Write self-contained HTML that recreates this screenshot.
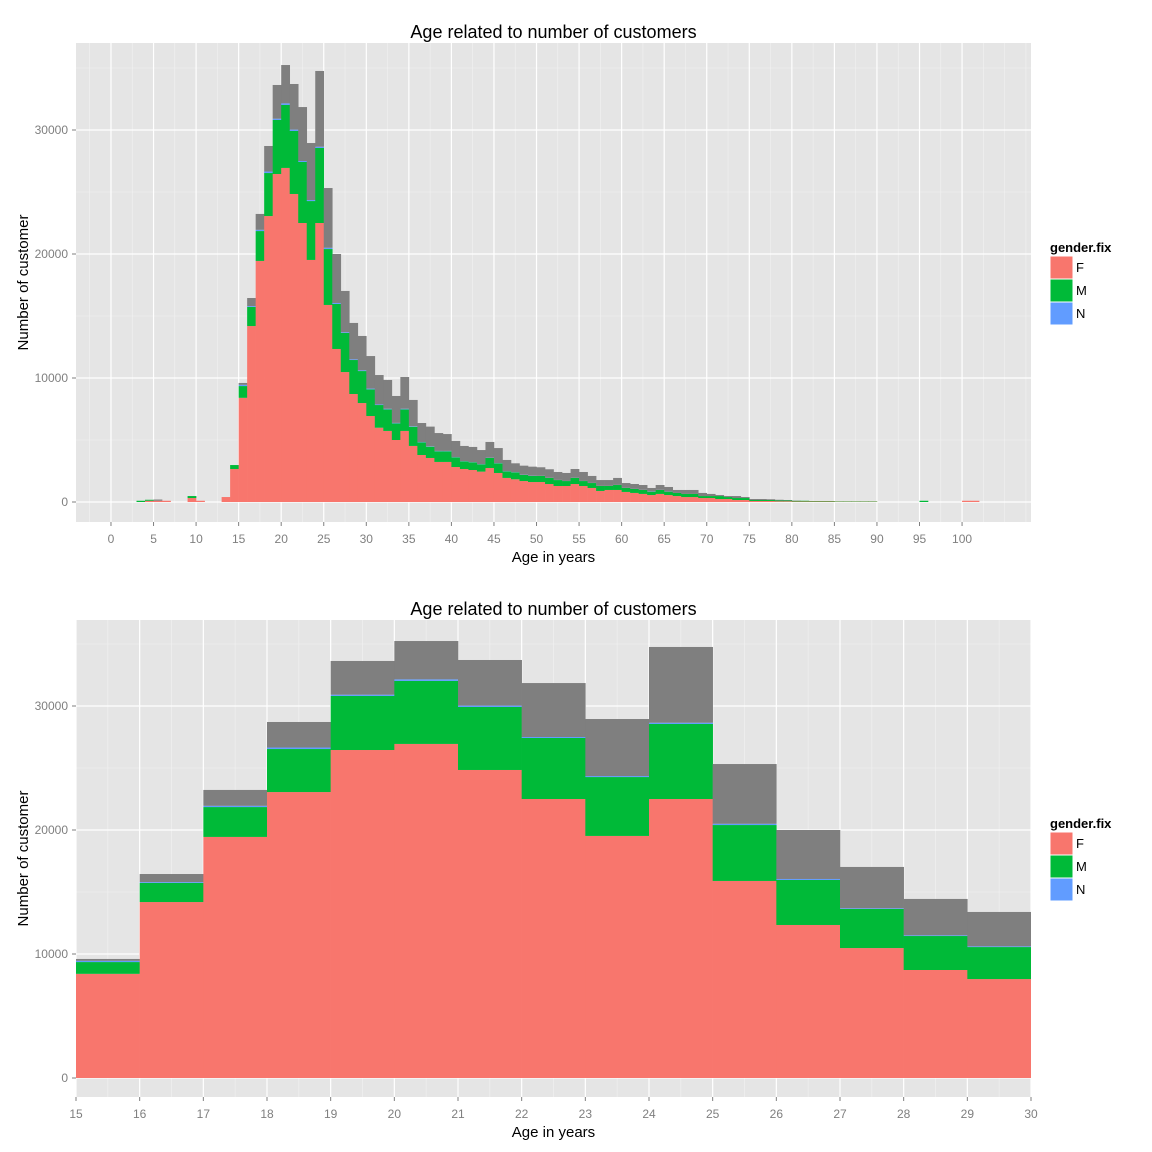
<!DOCTYPE html>
<html><head><meta charset="utf-8"><style>
body{margin:0;background:#fff;}
svg{display:block;font-family:"Liberation Sans",sans-serif;}
</style></head><body>
<svg id="c" width="1152" height="1152" viewBox="0 0 1152 1152" xmlns="http://www.w3.org/2000/svg"></svg>
<script>
const ages   = [3,4,5,6,9,10,13,14,15,16,17,18,19,20,21,22,23,24,25,26,27,28,29,30,31,32,33,34,35,36,37,38,39,40,41,42,43,44,45,46,47,48,49,50,51,52,53,54,55,56,57,58,59,60,61,62,63,64,65,66,67,68,69,70,71,72,73,74,75,76,77,78,79,80,81,82,83,84,85,86,87,88,89,95,100,101];
const fCount = [0,100,100,100,320,100,400,2660,8400,14190,19440,23060,26450,26940,24840,22500,19520,22500,15890,12340,10480,8710,7980,6935,5990,5730,5000,5730,4520,3790,3550,3230,3230,2820,2660,2580,2450,2740,2340,1940,1830,1690,1610,1610,1450,1290,1290,1450,1290,1130,890,970,970,810,730,650,560,650,560,480,400,400,320,320,240,240,160,160,80,80,80,60,60,40,40,40,40,40,30,30,30,30,30,0,100,100];
const mCount = [100,80,0,0,160,0,0,320,950,1540,2410,3470,4360,5080,5080,4920,4750,6050,4510,3630,3150,2740,2580,2150,1830,1740,1340,1740,1550,1020,910,860,860,780,620,620,590,810,780,530,560,490,490,490,490,480,400,490,400,400,400,320,400,320,320,320,270,320,270,250,250,250,160,160,240,160,160,160,80,80,80,60,60,60,60,40,40,40,30,30,30,30,30,100,0,0];
const nCount = [0,0,0,0,0,0,0,0,100,70,100,120,100,130,110,80,80,100,100,80,60,60,60,60,50,50,40,50,40,30,30,30,30,20,20,20,20,20,20,20,20,20,20,10,10,10,10,10,10,10,10,10,10,10,10,10,20,10,10,0,0,0,0,0,0,0,0,0,0,0,0,0,0,0,0,0,0,0,0,0,0,0,0,0,0,0];
const naCount= [0,0,100,0,0,0,0,0,150,650,1280,2060,2720,3090,3680,4350,4600,6110,4820,3950,3330,2930,2770,2625,2370,2320,2170,2560,2120,1530,1590,1440,1360,1300,1220,1220,1130,1270,1210,900,710,730,730,690,690,640,640,710,720,560,470,470,560,390,390,390,280,390,370,240,320,320,250,170,80,80,160,80,80,80,60,60,40,20,0,0,0,0,0,0,0,0,0,0,0,0];
const seriesNames = ["F","M","N"];
const yTicks = [0,10000,20000,30000];
const topXTicks = [0,5,10,15,20,25,30,35,40,45,50,55,60,65,70,75,80,85,90,95,100];
const botXTicks = [15,16,17,18,19,20,21,22,23,24,25,26,27,28,29,30];

const NS="http://www.w3.org/2000/svg";
const svg=document.getElementById('c');
const COL={F:"#F8766D",M:"#00BA38",N:"#619CFF",NA:"#7F7F7F"};
function mk(tag,attrs,parent){const e=document.createElementNS(NS,tag);for(const k in attrs)e.setAttribute(k,attrs[k]);(parent||svg).appendChild(e);return e;}

function panel(id,top,left,right,bottom,xmin,xmax,ymin,ymax,xTicks,xMinor,legendY){
  const g=mk('g',{});
  
  
  const X=v=>left+(v-xmin)/(xmax-xmin)*(right-left);
  const Y=v=>bottom-(v-ymin)/(ymax-ymin)*(bottom-top);
  const bg=mk('rect',{x:left,y:top,width:right-left,height:bottom-top,fill:'#E5E5E5'},g);
  
  
  for(let v=Math.ceil(xmin/xMinor)*xMinor;v<=xmax;v+=xMinor){mk('line',{x1:X(v),x2:X(v),y1:top,y2:bottom,stroke:'#F2F2F2','stroke-width':0.6},g);}
  for(let v=-5000;v<=ymax;v+=10000){if(v<ymin)continue;mk('line',{x1:left,x2:right,y1:Y(v),y2:Y(v),stroke:'#F2F2F2','stroke-width':0.6},g);}
  xTicks.forEach(v=>mk('line',{x1:X(v),x2:X(v),y1:top,y2:bottom,stroke:'#fff','stroke-width':1.2},g));
  yTicks.forEach(v=>mk('line',{x1:left,x2:right,y1:Y(v),y2:Y(v),stroke:'#fff','stroke-width':1.2},g));
  const cp=mk('clipPath',{id:id+'-clip'},g);mk('rect',{x:left,y:top,width:right-left,height:bottom-top},cp);
  const bars=mk('g',{'clip-path':'url(#'+id+'-clip)'},g);
  ages.forEach((a,i)=>{
    let base=0;
    const parts=[['F',fCount[i]],['M',mCount[i]],['N',nCount[i]],['NA',naCount[i]]];
    parts.forEach(([s,v])=>{
      if(v<=0)return;
      const r=mk('rect',{x:X(a),y:Y(base+v),width:X(a+1)-X(a)+0.3,height:Y(base)-Y(base+v),fill:COL[s]},bars);
      
      
      base+=v;
    });
  });
  yTicks.forEach(v=>{
    mk('line',{x1:left-4,x2:left,y1:Y(v),y2:Y(v),stroke:'#7F7F7F'},g);
    const t=mk('text',{x:left-8,y:Y(v)+4,'text-anchor':'end','font-size':12,fill:'#7F7F7F'},g);t.textContent=v;
    
    
  });
  xTicks.forEach(v=>{
    mk('line',{x1:X(v),x2:X(v),y1:bottom,y2:bottom+4,stroke:'#7F7F7F'},g);
    const t=mk('text',{x:X(v),y:bottom+21,'text-anchor':'middle','font-size':12,fill:'#7F7F7F'},g);t.textContent=v;
    
    
  });
  const ti=mk('text',{x:(left+right)/2,y:top-5,'text-anchor':'middle','font-size':18,fill:'#000'},g);ti.textContent='Age related to number of customers';
  
  
  const xt=mk('text',{x:(left+right)/2,y:bottom+40,'text-anchor':'middle','font-size':15,fill:'#000'},g);xt.textContent='Age in years';
  
  
  const cy=(top+bottom)/2;
  const yt=mk('text',{x:28,y:cy,'text-anchor':'middle','font-size':15,fill:'#000',transform:'rotate(-90 28 '+cy+')'},g);yt.textContent='Number of customer';
  
  
  const lt=mk('text',{x:1050,y:legendY,'font-size':13,'font-weight':'bold',fill:'#000'},g);lt.textContent='gender.fix';
  
  
  seriesNames.forEach((s,i)=>{
    const ky=legendY+4+i*23;
    const k=mk('rect',{x:1050,y:ky,width:23,height:23,fill:COL[s],stroke:'#fff','stroke-width':1},g);
    
    
    const lt2=mk('text',{x:1076,y:ky+16,'font-size':13,fill:'#000'},g);lt2.textContent=s;
    
    
  });
}
panel('top-panel',43,76,1031,522,-4.11,108.1,-1613,37016,topXTicks,2.5,252);
panel('bottom-panel',620,76,1031,1097,15,30,-1532,36935,botXTicks,0.5,828);
</script>
</body></html>
